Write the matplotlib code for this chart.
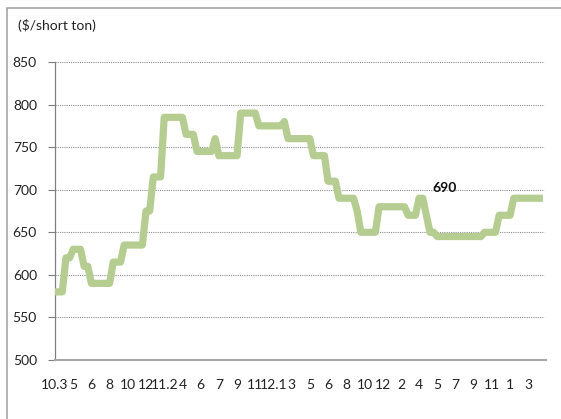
import matplotlib
matplotlib.use("Agg")
import matplotlib.pyplot as plt
from matplotlib.patches import Rectangle
import numpy as np

# Price ($/short ton), sampled at 5 points per label interval
prices = [
    580, 580, 580, 620, 620, 630, 630, 630, 610, 610,
    590, 590, 590, 590, 590, 590, 615, 615, 615, 635,
    635, 635, 635, 635, 635, 675, 675, 715, 715, 715,
    785, 785, 785, 785, 785, 785, 765, 765, 765, 745,
    745, 745, 745, 745, 760, 740, 740, 740, 740, 740,
    740, 790, 790, 790, 790, 790, 775, 775, 775, 775,
    775, 775, 775, 780, 760, 760, 760, 760, 760, 760,
    760, 740, 740, 740, 740, 710, 710, 710, 690, 690,
    690, 690, 690, 675, 650, 650, 650, 650, 650, 680,
    680, 680, 680, 680, 680, 680, 680, 670, 670, 670,
    690, 690, 670, 650, 650, 645, 645, 645, 645, 645,
    645, 645, 645, 645, 645, 645, 645, 645, 650, 650,
    650, 650, 670, 670, 670, 670, 690, 690, 690, 690,
    690, 690, 690, 690, 690,
]
points_per_label = 5
x_labels = ["10.3", "5", "6", "8", "10", "12", "11.2", "4", "6", "7", "9", "11",
            "12.1", "3", "5", "6", "8", "10", "12", "2", "4", "5", "7", "9", "11", "1", "3"]
y_ticks = [500, 550, 600, 650, 700, 750, 800, 850]
unit_label = "($/short ton)"
highlight_index = 101
highlight_text = "690"

plt.rcParams['font.family'] = ['Lato', 'DejaVu Sans']

W, H = 561, 419
fig = plt.figure(figsize=(W / 100, H / 100), dpi=100)
fig.patch.set_facecolor("white")

# outer chart frame
fig.add_artist(Rectangle((7 / W, -0.05), 1.2, (1 - 8 / H) + 0.05, transform=fig.transFigure,
                         fill=False, edgecolor="#a6a6a6", linewidth=1.2))

ax = fig.add_axes([55 / W, 1 - 360 / H, (546.5 - 55) / W, (360 - 62) / H])
x = np.arange(len(prices)) / points_per_label
ax.plot(x, prices, color="#b6cd92", linewidth=5.2, solid_joinstyle="round",
        solid_capstyle="butt", zorder=3)

ax.set_xlim(0, len(x_labels))
ax.set_ylim(500, 850)
ax.set_yticks(y_ticks)
ax.set_yticklabels([str(v) for v in y_ticks], fontsize=10, color="#222222")
ax.set_xticks(np.arange(len(x_labels)))
ax.set_xticklabels(x_labels, fontsize=10, color="#222222")
ax.tick_params(axis="x", length=0, pad=14)
ax.tick_params(axis="y", length=5, width=0.8, color="#808080", pad=8, direction="out")

for v in y_ticks[1:]:
    ax.plot([0, 26.85], [v, v], color="#8c8c8c", linewidth=0.8, linestyle=(0, (1, 1)),
            zorder=1)

for s in ["top", "right"]:
    ax.spines[s].set_visible(False)
ax.spines["left"].set_color("#808080")
ax.spines["left"].set_linewidth(0.9)
ax.spines["bottom"].set_color("#a6a6a6")
ax.spines["bottom"].set_linewidth(1.5)
ax.spines["bottom"].set_bounds(0, 26.95)

ax.annotate(highlight_text, xy=(x[highlight_index], prices[highlight_index]),
            xytext=(22, 10), textcoords="offset pixels", ha="center", va="center",
            fontsize=10, fontweight="bold", color="#111111")

fig.text(18 / W, 1 - 26 / H, unit_label, fontsize=10, color="#222222", ha="left", va="center")

fig.savefig("out.png", dpi=100, facecolor="white")
